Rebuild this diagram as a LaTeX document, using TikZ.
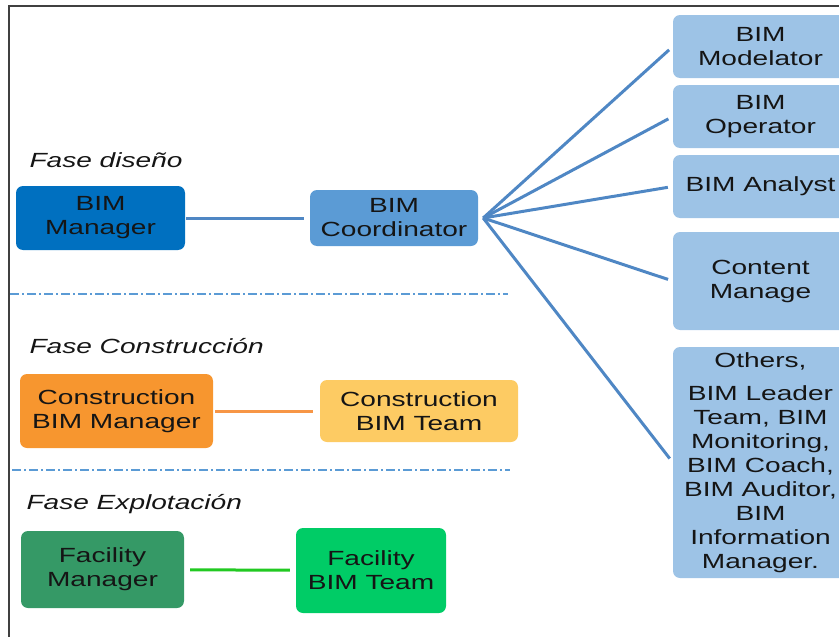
\documentclass[tikz,border=0pt]{standalone}
\usepackage{fontspec}
\setmainfont{Liberation Sans}[FakeStretch=1.37]
\usepackage{tikz}
\usetikzlibrary{calc}

\definecolor{mgrblue}{HTML}{0070C0}
\definecolor{coordblue}{HTML}{5B9BD5}
\definecolor{roleblue}{HTML}{9DC3E6}
\definecolor{fanblue}{HTML}{4F87C4}
\definecolor{sepblue}{HTML}{5B9BD5}
\definecolor{cmgrorange}{HTML}{F7962F}
\definecolor{cteamorange}{HTML}{FDCB63}
\definecolor{linkorange}{HTML}{F79646}
\definecolor{fmgrgreen}{HTML}{359966}
\definecolor{fteamgreen}{HTML}{00CC66}
\definecolor{linkgreen}{HTML}{22C922}
\definecolor{framegray}{HTML}{404040}
\definecolor{txt}{HTML}{151515}

\begin{document}
\begin{tikzpicture}[x=1pt,y=-1pt,
  every node/.style={text=txt,font=\fontsize{20.5}{24}\selectfont},
  box/.style={rounded corners=7pt,align=center,inner sep=1pt},
  role/.style={box,fill=roleblue,minimum width=175pt,minimum height=63pt},
  phase/.style={anchor=west,font=\fontsize{20.5}{24}\selectfont\itshape},
  sep/.style={sepblue,line width=1.4pt,dash pattern=on 9pt off 3pt on 2pt off 3pt}]
\useasboundingbox (0,0) rectangle (839,637);
\draw [framegray,line width=1.8pt] (9,637) -- (9,6) -- (839,6);
% design phase
\node [phase] (fdis) at (26,160) {Fase diseño};
\node [box,fill=mgrblue,minimum width=169pt,minimum height=64pt] (mgr) at (100.5,218) {BIM\\Manager};
\node [box,fill=coordblue,minimum width=168pt,minimum height=56pt] (coord) at (394,218) {BIM\\Coordinator};
\draw [fanblue,line width=3pt,shorten <=1pt,shorten >=6pt] (mgr) -- (coord);
\node [role] (mod) at (760.5,46.5) {BIM\\Modelator};
\node [role] (oper) at (760.5,116.5) {BIM\\Operator};
\node [role] (anal) at (760.5,186.5) {BIM Analyst};
\node [role,minimum height=98pt] (cont) at (760.5,281) {Content\\Manage};
\node [role,minimum height=231pt] (oth) at (760.5,462.5) {Others,\\[9pt]BIM Leader\\Team, BIM\\Monitoring,\\BIM Coach,\\BIM Auditor,\\BIM\\Information\\Manager.};
\coordinate (hub) at ($(coord.east)+(5,0)$);
\foreach \r in {mod,oper,anal,cont,oth}
  \draw [fanblue,line width=3pt,shorten >=5pt] (hub) -- (\r.west);
\draw [sep] (10,294) -- (508,294);
% construction phase
\node [phase] (fcon) at (26,346) {Fase Construcción};
\node [box,fill=cmgrorange,minimum width=193pt,minimum height=74pt] (cmgr) at (116.5,411) {Construction\\BIM Manager};
\node [box,fill=cteamorange,minimum width=198pt,minimum height=62pt] (cteam) at (419,411) {Construction\\BIM Team};
\draw [linkorange,line width=3pt,shorten <=2pt,shorten >=7pt] (cmgr) -- (cteam);
\draw [sep] (12,470) -- (510,470);
% operation phase
\node [phase] (fexp) at (23,504) {Fase Explotación};
\node [box,fill=fmgrgreen,minimum width=163pt,minimum height=77pt] (fmgr) at (102.5,569.5) {Facility\\Manager};
\node [box,fill=fteamgreen,minimum width=150pt,minimum height=85pt] (fteam) at (371,570.5) {Facility\\BIM Team};
\draw [linkgreen,line width=3pt,shorten <=6pt,shorten >=6pt] (fmgr) -- (fteam);
\end{tikzpicture}
\end{document}
